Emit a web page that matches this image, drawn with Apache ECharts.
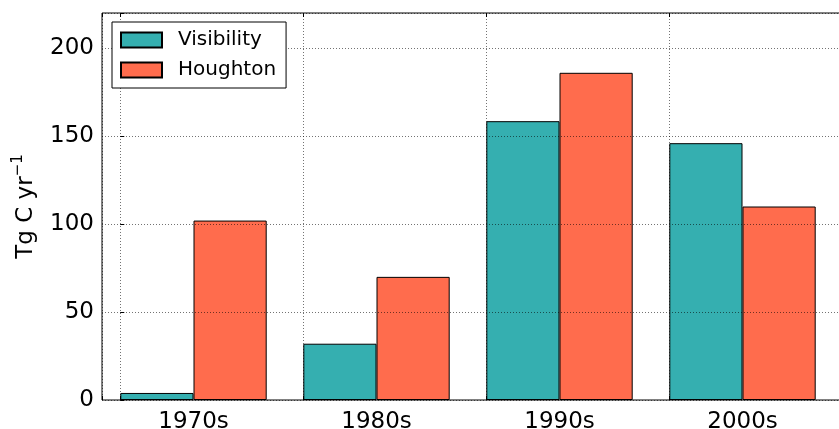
<!DOCTYPE html>
<html>
<head>
<meta charset="utf-8">
<script src="https://cdn.jsdelivr.net/npm/echarts@6/dist/echarts.min.js"></script>
<style>
  html, body { margin: 0; padding: 0; background: #fff; }
  #chart { width: 839px; height: 429px; }
</style>
</head>
<body>
<div id="chart"></div>
<script>
const categories = ['1970s', '1980s', '1990s', '2000s'];
const visibility = [4, 32, 158.5, 146];
const houghton = [102, 70, 186, 110];
const yTickValues = [0, 50, 100, 150, 200];
const seriesNames = ['Visibility', 'Houghton'];

const FONT = 'DejaVu Sans';
const chart = echarts.init(document.getElementById('chart'), null, { renderer: 'canvas' });

const gridDotted = { show: true, lineStyle: { color: 'rgba(0,0,0,0.55)', width: 1, type: [1, 2] } };

const option = {
  animation: false,
  backgroundColor: '#fff',
  textStyle: { fontFamily: FONT },
  grid: [
    { left: 102, top: 13, bottom: 29, width: 732, show: false, containLabel: false, outerBoundsMode: 'none' },
    { left: 102, top: 13, bottom: 29, width: 777, show: true, containLabel: false, outerBoundsMode: 'none',
      borderColor: '#000', borderWidth: 1, backgroundColor: 'transparent', z: 1 }
  ],
  legend: {
    orient: 'vertical',
    left: 112, top: 22,
    z: 10,
    icon: 'rect',
    data: seriesNames,
    itemWidth: 41, itemHeight: 15, itemGap: 10,
    padding: [8, 10, 8, 8],
    backgroundColor: '#fff',
    borderColor: '#000', borderWidth: 1, borderRadius: 0,
    textStyle: { fontFamily: FONT, fontSize: 20, color: '#000', padding: [0, 0, 0, 11] }
  },
  xAxis: [
    {
      type: 'category', gridIndex: 0, data: categories,
      axisLine: { show: false }, axisTick: { show: false }, splitLine: { show: false },
      axisLabel: { fontFamily: FONT, fontSize: 23, color: '#000', margin: 11 }
    },
    {
      type: 'value', gridIndex: 1, min: -0.1, max: 4.15, splitNumber: 4, position: 'bottom', z: 5,
      axisLine: { show: false }, axisLabel: { show: false },
      axisTick: { show: true, inside: true, length: 4, lineStyle: { color: '#000' } },
      splitLine: gridDotted
    },
    {
      type: 'value', gridIndex: 1, min: -0.1, max: 4.15, splitNumber: 4, position: 'top', z: 5,
      axisLine: { show: false }, axisLabel: { show: false },
      axisTick: { show: true, inside: true, length: 4, lineStyle: { color: '#000' } },
      splitLine: { show: false }
    }
  ],
  yAxis: [
    { type: 'value', gridIndex: 0, min: 0, max: 220, show: false },
    {
      type: 'value', gridIndex: 1, min: 0, max: 220, interval: 50, z: 5,
      name: '{a|Tg C yr}{b|−1}',
      nameLocation: 'middle', nameRotate: 90, nameGap: 61,
      nameTextStyle: {
        rich: {
          a: { fontFamily: FONT, fontSize: 23, color: '#000', lineHeight: 30 },
          b: { fontFamily: FONT, fontSize: 15, color: '#000', verticalAlign: 'top', lineHeight: 30 }
        }
      },
      axisLine: { show: false },
      axisTick: { show: true, inside: true, length: 4, lineStyle: { color: '#000' } },
      axisLabel: {
        fontFamily: FONT, fontSize: 23, color: '#000', margin: 8,
        formatter: v => (yTickValues.indexOf(v) >= 0 ? String(v) : '')
      },
      splitLine: gridDotted
    }
  ],
  series: [
    {
      name: seriesNames[0], type: 'bar', xAxisIndex: 0, yAxisIndex: 0,
      data: visibility, barWidth: '40%', barGap: '0%', z: 2,
      itemStyle: { color: '#35AFB0', borderColor: '#000', borderWidth: 1 }
    },
    {
      name: seriesNames[1], type: 'bar', xAxisIndex: 0, yAxisIndex: 0,
      data: houghton, barWidth: '40%', barGap: '0%', z: 2,
      itemStyle: { color: '#FF6C4D', borderColor: '#000', borderWidth: 1 }
    }
  ]
};
chart.setOption(option);
</script>
</body>
</html>
